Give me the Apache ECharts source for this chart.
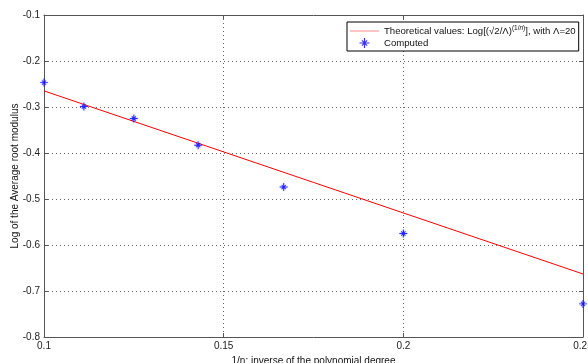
<!DOCTYPE html>
<html>
<head>
<meta charset="utf-8">
<script src="https://cdn.jsdelivr.net/npm/echarts@6/dist/echarts.min.js"></script>
<style>
html,body{margin:0;padding:0;background:#fff;}
#c{width:588px;height:363px;}
</style>
</head>
<body>
<div id="c"></div>
<script>
// ---- data ----
const xTicks = [0.1, 0.15, 0.2, 0.25];
const yTicks = [-0.8, -0.7, -0.6, -0.5, -0.4, -0.3, -0.2, -0.1];
const invN = [0.1, 0.1111, 0.125, 0.1429, 0.1667, 0.2, 0.25];
const computed = [-0.247, -0.299, -0.325, -0.383, -0.474, -0.575, -0.728];
const theoryX = [0.1, 0.25];
const theoryY = [-0.265, -0.663];
const seriesNames = ['Theoretical values', 'Computed'];
const xName = '1/n: inverse of the polynomial degree';
const yName = 'Log of the Average root modulus';

const font = 'Liberation Sans, Arial, sans-serif';
const axisCol = '#555';
const starPath = 'path://M0,4.4L10,4.4L10,5.6L0,5.6Z M4.4,0L5.6,0L5.6,10L4.4,10Z M2,2.8L2.8,2L8,7.2L7.2,8Z M7.2,2L8,2.8L2.8,8L2,7.2Z';
const lineIcon = 'path://M0,4.6L30,4.6L30,5.4L0,5.4Z';

const xMin = xTicks[0], xMax = xTicks[xTicks.length-1], xInt = 0.05;
const yMin = yTicks[0], yMax = yTicks[yTicks.length-1], yInt = 0.1;
const fmt = v => String(Math.round(v*1000)/1000);

function baseAxis(extra){
  return Object.assign({
    type:'value',
    axisLine:{show:true,onZero:false,lineStyle:{color:axisCol,width:1}},
    axisTick:{show:true,inside:true,length:4,lineStyle:{color:axisCol}},
    splitLine:{show:false},
  }, extra);
}

const chart = echarts.init(document.getElementById('c'), null, {renderer:'canvas'});
chart.setOption({
  backgroundColor:'#fff',
  animation:false,
  textStyle:{fontFamily:font},
  grid:{left:44, right:5, top:15, bottom:26, containLabel:false, outerBoundsMode:'none'},
  legend:{
    orient:'vertical',
    left:347, top:22,
    backgroundColor:'#fff',
    borderColor:'#000',
    borderWidth:1,
    borderRadius:0,
    padding:[3,3,3,3],
    itemGap:2,
    itemWidth:29,
    itemHeight:10,
    data:[{name:seriesNames[0], icon:lineIcon, itemStyle:{color:'#ff6666'}},{name:seriesNames[1]}],
    formatter:function(n){
      if(n===seriesNames[0]){
        return '{a|Theoretical values: Log[(√2/Λ)}{s|(1/}{si|n}{s|)}{a|], with Λ=20}';
      }
      return '{a|'+n+'}';
    },
    textStyle:{
      fontFamily:font, fontSize:10, color:'#111',
      rich:{
        a:{fontSize:9.6, lineHeight:12, fontFamily:font, color:'#111'},
        s:{fontSize:6.5, lineHeight:12, verticalAlign:'top', fontFamily:font, color:'#111'},
        si:{fontSize:6.5, lineHeight:12, verticalAlign:'top', fontStyle:'italic', fontFamily:font, color:'#111'}
      }
    }
  },
  xAxis:[
    baseAxis({
      position:'bottom', min:xMin, max:xMax, interval:xInt,
      name:xName, nameLocation:'middle', nameGap:19, nameMoveOverlap:false,
      nameTextStyle:{fontSize:10, color:'#111', fontFamily:font},
      axisLabel:{fontSize:10, color:'#222', margin:4, fontFamily:font, formatter:fmt},
      splitLine:{show:true, lineStyle:{type:[1,3], color:'#666', width:1}}
    }),
    baseAxis({
      position:'top', min:xMin, max:xMax, interval:xInt,
      axisLabel:{show:false}
    })
  ],
  yAxis:[
    baseAxis({
      position:'left', min:yMin, max:yMax, interval:yInt,
      name:yName, nameLocation:'middle', nameGap:24, nameMoveOverlap:false,
      nameTextStyle:{fontSize:10, color:'#111', fontFamily:font},
      axisLabel:{fontSize:10, color:'#222', margin:4, fontFamily:font, formatter:fmt},
      splitLine:{show:true, lineStyle:{type:[1,3], color:'#666', width:1}}
    }),
    baseAxis({
      position:'right', min:yMin, max:yMax, interval:yInt,
      axisLabel:{show:false}
    })
  ],
  series:[
    {
      name:seriesNames[0], type:'line', xAxisIndex:0, yAxisIndex:0,
      data: theoryX.map((x,i)=>[x, theoryY[i]]),
      symbol:'none', lineStyle:{color:'#ff0000', width:1}, itemStyle:{color:'#ff0000'},
      z:3
    },
    {
      name:seriesNames[1], type:'scatter', xAxisIndex:0, yAxisIndex:0,
      data: invN.map((x,i)=>[x, computed[i]]),
      symbol:starPath, symbolSize:8, clip:false,
      itemStyle:{color:'#0000ff', shadowColor:'rgba(80,80,255,0.6)', shadowBlur:2},
      z:4
    }
  ]
});
</script>
</body>
</html>
